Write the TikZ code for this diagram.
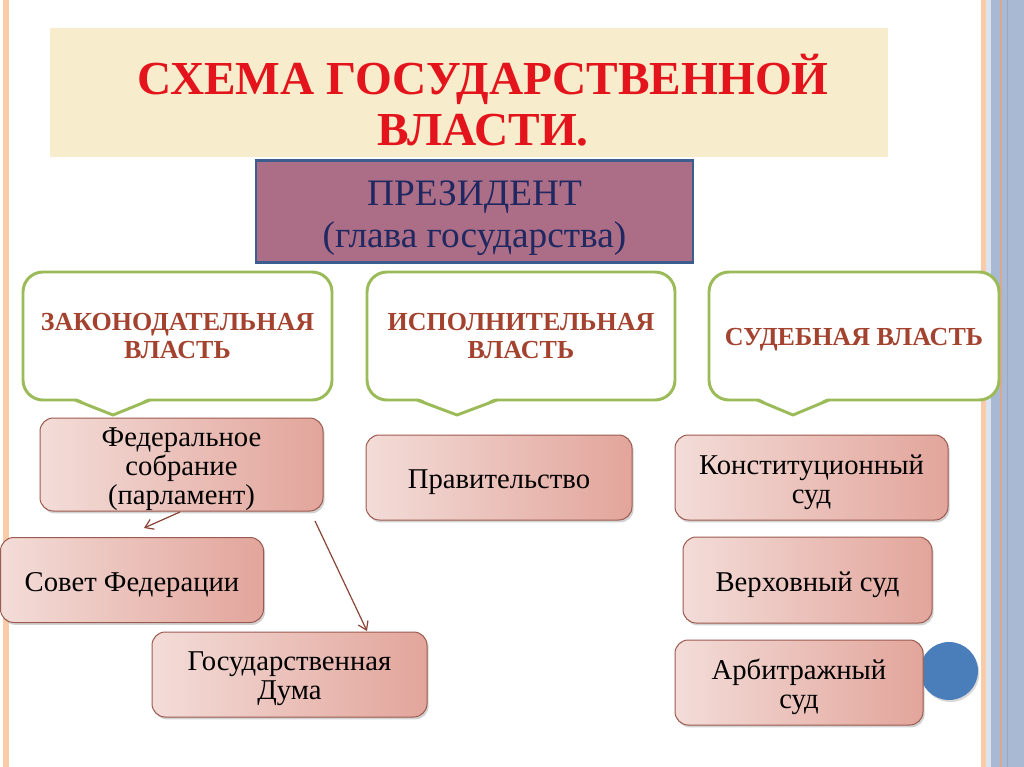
\documentclass[tikz,border=0pt]{standalone}
\usepackage{fontspec}
\setmainfont{Liberation Serif}
\usetikzlibrary{shadows,arrows.meta,calc}
\definecolor{stripeor}{HTML}{F8CBA9}
\definecolor{stripeor2}{HTML}{D8A98F}
\definecolor{bandblue}{HTML}{A9B8D3}
\definecolor{paleblue}{HTML}{DCE3EE}
\definecolor{titlebg}{HTML}{F7ECCB}
\definecolor{titlered}{HTML}{E3141B}
\definecolor{presfill}{HTML}{AC6E87}
\definecolor{presdraw}{HTML}{3B5E8E}
\definecolor{presnavy}{HTML}{1F2860}
\definecolor{callgreen}{HTML}{9BBB59}
\definecolor{calltext}{HTML}{A3432F}
\definecolor{pinkL}{HTML}{F3DCD8}
\definecolor{pinkR}{HTML}{E2A59B}
\definecolor{pinkdraw}{HTML}{9C5B50}
\definecolor{arrowbrown}{HTML}{8B4536}
\definecolor{circblue}{HTML}{4A7EBB}
\tikzset{
  pinktext/.style={align=center, inner sep=0pt, font=\fontsize{21.5}{21.75}\selectfont, yshift=-3.5pt},
  pinkbox/.style={draw=pinkdraw, line width=0.75pt, rounded corners=10pt,
    left color=pinkL, right color=pinkR, inner sep=0pt, outer sep=0pt,
    drop shadow={shadow xshift=1.2pt, shadow yshift=-1.8pt, opacity=0.35},
    label={[pinktext]center:#1}},
  callout/.style={draw=callgreen, line width=2.2pt, rounded corners=15pt,
    fill=white, inner sep=0pt, outer sep=0pt, align=center,
    text=calltext, font=\bfseries\fontsize{19.5}{21}\selectfont},
  callptr/.style={draw=callgreen, line width=2.2pt, line join=round},
  conn/.style={draw=arrowbrown, line width=0.9pt, -{Straight Barb[length=6pt,width=8pt]}}
}
\begin{document}
\begin{tikzpicture}[x=0.75pt,y=-0.75pt]
\useasboundingbox (0,0) rectangle (1024,767);
\fill[white] (0,0) rectangle (1024,767);
% side stripes
\fill[stripeor] (3,0) rectangle (9,767);
\fill[stripeor] (981,0) rectangle (986,767);
\fill[paleblue] (986,0) rectangle (991,767);
\fill[bandblue] (991,0) rectangle (1024,767);
\fill[stripeor2] (999.5,0) rectangle (1001.5,767);
\fill[bandblue!85!black!60!bandblue] (1007,0) rectangle (1008,767);
% title
\node[fill=titlebg, minimum width=838*0.75pt, minimum height=129*0.75pt, inner sep=0pt] (titlebox) at (469,92.5) {};
\node[text=titlered, align=center, font=\bfseries\fontsize{35.5}{38}\selectfont] (title) at (483,100.5) {СХЕМА ГОСУДАРСТВЕННОЙ\\ВЛАСТИ.};
% president
\node[fill=presfill, draw=presdraw, line width=2pt, minimum width=437*0.75pt, minimum height=102*0.75pt, inner sep=0pt,
  label={[text=presnavy, align=center, inner sep=0pt, font=\fontsize{28}{31.5}\selectfont, yshift=-5pt]center:ПРЕЗИДЕНТ\\(глава государства)}] (pres) at (474.5,211.5) {};
% callouts
\node[callout, minimum width=309*0.75pt, minimum height=128*0.75pt] (zak) at (177.5,336) {ЗАКОНОДАТЕЛЬНАЯ\\ВЛАСТЬ};
\node[callout, minimum width=308*0.75pt, minimum height=128*0.75pt] (isp) at (521,336) {ИСПОЛНИТЕЛЬНАЯ\\ВЛАСТЬ};
\node[callout, minimum width=290*0.75pt, minimum height=128*0.75pt, label={[text=calltext, font=\bfseries\fontsize{19.5}{21}\selectfont, inner sep=0pt, yshift=-3pt]center:СУДЕБНАЯ ВЛАСТЬ}] (sud) at (854,336) {};
\coordinate (zt) at (113,415);
\coordinate (it) at (457,415);
\coordinate (st) at (793,415);
\fill[white] ($(zak.south west)+(52,-2.5)$) -- (zt) -- ($(zak.south west)+(127,-2.5)$) -- cycle;
\draw[callptr] ($(zak.south west)+(52,0)$) -- (zt) -- ($(zak.south west)+(127,0)$);
\fill[white] ($(isp.south west)+(50,-2.5)$) -- (it) -- ($(isp.south west)+(130,-2.5)$) -- cycle;
\draw[callptr] ($(isp.south west)+(50,0)$) -- (it) -- ($(isp.south west)+(130,0)$);
\fill[white] ($(sud.south west)+(48,-2.5)$) -- (st) -- ($(sud.south west)+(120,-2.5)$) -- cycle;
\draw[callptr] ($(sud.south west)+(48,0)$) -- (st) -- ($(sud.south west)+(120,0)$);
% blue circle
\fill[circblue, drop shadow={shadow xshift=1pt, shadow yshift=-1.5pt, opacity=0.3}] (949,671) circle (29*0.75pt);
% boxes
\node[pinkbox={Федеральное\\собрание\\(парламент)}, minimum width=283*0.75pt, minimum height=93*0.75pt] (fed) at (181.5,464.5) {};
\node[pinkbox={Совет Федерации}, minimum width=263*0.75pt, minimum height=85*0.75pt] (sov) at (132,580) {};
\node[pinkbox={Государственная\\Дума}, minimum width=275*0.75pt, minimum height=85*0.75pt] (duma) at (289.5,674.5) {};
\node[pinkbox={Правительство}, minimum width=266*0.75pt, minimum height=85*0.75pt] (prav) at (499,477.5) {};
\node[pinkbox={Конституционный\\суд}, minimum width=273*0.75pt, minimum height=85*0.75pt] (konst) at (811.5,477.5) {};
\node[pinkbox={Верховный суд}, minimum width=249*0.75pt, minimum height=86*0.75pt] (verh) at (807.5,580) {};
\node[pinkbox={Арбитражный\\суд}, minimum width=248*0.75pt, minimum height=85*0.75pt] (arb) at (799,682.5) {};
% arrows
\coordinate (a1s) at (180,512);
\coordinate (a1e) at (144,528);
\coordinate (a2s) at (315,521);
\coordinate (a2e) at (367,631);
\draw[conn] (a1s) -- (a1e);
\draw[conn] (a2s) -- (a2e);
\end{tikzpicture}
\end{document}
